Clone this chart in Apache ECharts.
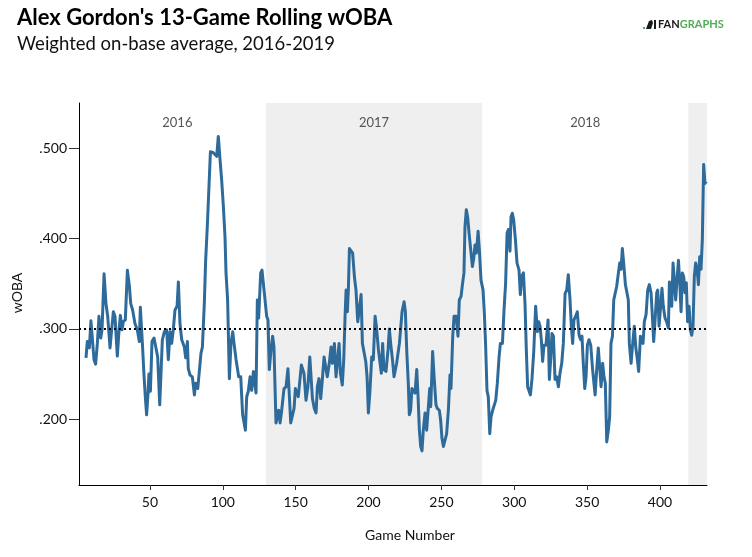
<!DOCTYPE html>
<html>
<head>
<meta charset="utf-8">
<script src="https://cdn.jsdelivr.net/npm/echarts@6/dist/echarts.min.js"></script>
<style>
html,body{margin:0;padding:0;background:#fff;}
#chart{width:752px;height:557px;}
</style>
</head>
<body>
<div id="chart"></div>
<script>
const titleText = "Alex Gordon's 13-Game Rolling wOBA";
const subtitleText = "Weighted on-base average, 2016-2019";
const xTicks = [50, 100, 150, 200, 250, 300, 350, 400];
const yTicks = [0.2, 0.3, 0.4, 0.5];
const leagueAvg = 0.298;
const seasons = [
  {name: '2016', start: 8, end: 129.6, shaded: false},
  {name: '2017', start: 129.6, end: 278, shaded: true},
  {name: '2018', start: 278, end: 419.5, shaded: false},
  {name: '', start: 419.5, end: 432.3, shaded: true}
];
const games = [
6.1,7.0,8.4,9.5,11.6,12.7,13.9,15.0,16.2,17.1,18.5,19.8,21.0,22.6,23.7,24.9,26.0,27.6,28.8,29.7,30.8,31.7,33.1,34.5,35.9,36.8,38.1,39.7,41.3,42.7,43.4,44.8,45.9,46.8,47.7,48.7,49.3,50.3,51.4,52.8,
53.5,55.3,56.7,58.5,59.9,61.5,62.6,63.8,64.9,66.0,67.2,68.6,69.5,70.6,71.8,73.6,74.5,75.7,76.3,77.5,79.1,80.5,81.4,82.8,83.9,85.0,86.0,87.3,88.2,89.4,90.5,91.5,92.4,93.5,94.6,95.8,96.9,98.1,99.2,100.4,101.5,102.2,103.3,104.5,
105.6,106.8,107.7,109.1,110.0,110.9,112.3,113.6,114.5,115.5,116.4,117.5,118.7,119.8,121.0,122.1,122.8,123.7,124.6,126.0,126.9,127.8,129.0,130.1,131.0,131.9,133.1,134.2,135.1,136.5,137.4,138.3,139.3,140.2,141.1,142.0,143.4,144.7,145.7,146.6,147.5,148.9,149.8,150.7,151.8,153.0,153.9,154.8,155.7,157.1,
158.4,159.7,161.5,162.8,164.0,164.9,166.0,167.2,168.3,169.5,170.6,171.7,172.9,174.3,175.2,176.6,177.7,178.6,179.8,180.7,182.0,183.0,183.9,184.6,185.5,186.2,186.9,188.0,189.1,190.3,191.4,192.6,193.5,194.9,195.8,196.9,198.1,199.0,199.9,201.0,202.2,203.3,204.5,205.4,206.8,
208.8,209.7,210.6,212.0,213.4,214.3,215.2,216.5,217.5,218.2,219.3,220.2,221.2,222.1,223.0,224.4,225.3,226.2,227.3,228.0,228.9,229.8,230.8,231.9,233.1,234.0,234.9,235.8,236.7,237.6,238.8,239.9,241.1,242.0,242.7,244.0,245.0,246.3,247.2,248.6,249.5,250.4,251.4,252.7,253.6,254.8,255.9,256.6,257.8,258.7,260.1,261.4,262.3,
263.5,264.6,265.5,266.2,267.1,268.1,269.0,270.1,271.3,272.2,273.1,274.0,275.2,276.1,277.2,278.6,279.5,280.4,281.3,282.2,283.2,284.1,285.2,286.4,287.3,288.4,289.6,290.5,291.9,293.0,294.1,295.1,296.0,297.1,297.8,298.7,299.6,300.8,301.9,303.3,304.2,305.1,306.3,307.4,308.3,309.2,310.2,311.1,
312.2,313.4,314.7,315.9,316.8,317.7,318.6,319.5,320.4,321.8,323.2,324.1,325.0,325.9,326.9,328.0,329.1,330.3,331.4,332.6,333.7,334.9,336.0,337.1,338.3,339.2,340.1,341.0,342.2,343.3,344.5,345.6,346.5,347.4,348.4,349.3,350.2,351.3,352.5,353.8,355.5,356.6,357.7,358.9,359.6,360.7,361.6,362.5,363.5,364.6,365.5,
366.4,367.4,368.3,369.2,370.3,371.5,372.4,373.3,374.2,375.1,376.3,377.4,378.3,379.0,380.2,381.1,382.4,383.4,384.5,385.4,386.6,387.5,388.4,389.3,390.5,391.6,392.7,393.9,394.8,395.7,396.6,397.8,398.5,399.4,400.3,401.4,402.3,403.5,404.6,405.8,406.5,407.4,408.1,409.0,409.9,410.8,411.7,412.7,413.6,414.5,415.4,416.3,417.2,418.1,419.0,420.0,420.9,421.8,422.7,423.6,424.5,425.5,426.4,427.3,428.2,429.1,430.0,430.9,431.9
];
const woba = [
.268,.286,.279,.309,.266,.261,.284,.314,.290,.299,.361,.328,.314,.279,.299,.319,.314,.270,.299,.315,.299,.308,.310,.365,.347,.328,.321,.306,.299,.286,.324,.284,.249,.225,.205,.229,.250,.231,.286,.290,
.291,.269,.216,.288,.297,.299,.266,.297,.284,.299,.321,.325,.352,.306,.288,.280,.268,.286,.256,.249,.247,.227,.240,.234,.236,.273,.280,.328,.375,.415,.415,.496,.498,.495,.496,.491,.513,.487,.465,.435,.402,.362,.332,.245,
.284,.297,.284,.266,.264,.247,.247,.205,.203,.188,.225,.231,.247,.232,.253,.251,.229,.332,.312,.362,.365,.351,.351,.314,.310,.255,.277,.292,.280,.196,.196,.210,.196,.207,.207,.234,.236,.256,.225,.196,.196,.212,.234,.234,.225,.225,.260,.260,.251,.221,
.236,.269,.223,.212,.207,.236,.245,.223,.244,.269,.271,.247,.260,.280,.262,.284,.247,.245,.284,.251,.238,.266,.314,.343,.319,.345,.389,.389,.384,.358,.343,.308,.319,.338,.284,.282,.264,.247,.207,.232,.269,.266,.314,.303,.277,
.251,.284,.255,.253,.277,.300,.284,.265,.247,.245,.262,.262,.284,.301,.319,.330,.319,.277,.240,.205,.210,.234,.234,.229,.255,.225,.188,.170,.165,.188,.207,.188,.214,.234,.214,.275,.247,.216,.212,.210,.199,.179,.170,.170,.184,.210,.249,.234,.292,.314,.314,.292,.332,
.336,.351,.362,.413,.432,.423,.406,.404,.369,.378,.393,.384,.408,.387,.354,.343,.317,.280,.232,.225,.184,.203,.210,.208,.221,.240,.269,.284,.284,.321,.351,.406,.410,.386,.424,.428,.421,.399,.373,.365,.338,.358,.362,.328,.277,.236,.234,.227,
.245,.275,.325,.297,.308,.303,.288,.264,.282,.282,.310,.244,.266,.295,.292,.244,.247,.236,.251,.262,.284,.339,.343,.360,.332,.303,.284,.310,.314,.319,.293,.288,.292,.262,.234,.247,.282,.288,.282,.255,.227,.255,.279,.277,.236,.262,.247,.240,.175,.188,.203,
.284,.292,.332,.334,.347,.362,.373,.366,.389,.373,.349,.347,.332,.284,.262,.280,.303,.280,.266,.253,.292,.290,.284,.308,.316,.343,.349,.340,.314,.286,.308,.340,.343,.303,.321,.345,.325,.312,.308,.301,.352,.354,.325,.373,.354,.332,.354,.376,.352,.319,.362,.358,.340,.351,.308,.325,.299,.293,.303,.358,.373,.366,.349,.380,.366,.399,.482,.461,.463
];

const seriesData = games.map((g, i) => [g, woba[i]]);
const areaData = seasons.map(s => [
  {xAxis: s.start, name: s.name, itemStyle: {color: s.shaded ? '#efefef' : 'rgba(0,0,0,0)'}},
  {xAxis: s.end}
]);

const chart = echarts.init(document.getElementById('chart'), null, {renderer: 'canvas'});
const FONT = 'Lato';
chart.setOption({
  animation: false,
  backgroundColor: '#ffffff',
  textStyle: {fontFamily: FONT},
  grid: {left: 79, right: 45, top: 103, bottom: 72, containLabel: false},
  xAxis: {
    type: 'value',
    min: 1.3,
    max: 432.3,
    axisLine: {show: true, lineStyle: {color: '#000', width: 1}},
    axisTick: {show: true, length: 5, customValues: xTicks, lineStyle: {color: '#333'}},
    axisLabel: {customValues: xTicks, fontSize: 14, color: '#111', margin: 10, fontFamily: FONT},
    splitLine: {show: false}
  },
  yAxis: {
    type: 'value',
    min: 0.1273,
    max: 0.55,
    axisLine: {show: true, lineStyle: {color: '#000', width: 1}},
    axisTick: {show: true, length: 10, customValues: yTicks, lineStyle: {color: '#333'}},
    axisLabel: {
      customValues: yTicks, fontSize: 14, color: '#111', margin: 12, fontFamily: FONT,
      formatter: v => v.toFixed(3).replace(/^0/, '')
    },
    splitLine: {show: false}
  },
  graphic: [
    {type: 'text', left: 17, top: 7, style: {text: titleText, font: 'bold 22px Lato', fill: '#000'}},
    {type: 'text', left: 17, top: 35, style: {text: subtitleText, font: '18.5px Lato', fill: '#111'}},
    {type: 'text', x: 410, y: 535, style: {text: 'Game Number', font: '14px Lato', fill: '#111', align: 'center', verticalAlign: 'middle'}},
    {type: 'text', x: 17, y: 293, rotation: Math.PI / 2, style: {text: 'wOBA', font: '14px Lato', fill: '#111', align: 'center', verticalAlign: 'middle'}},
    {type: 'rect', shape: {x: 643, y: 27, width: 2, height: 2}, style: {fill: '#50ae55'}},
    {type: 'polygon', shape: {points: [[646, 29], [649, 21], [652, 20], [653, 23], [651, 29]]}, style: {fill: '#1a1a1a'}},
    {type: 'rect', shape: {x: 654, y: 20, width: 2, height: 9}, style: {fill: '#1a1a1a'}},
    {type: 'text', left: 658, top: 19, style: {
      rich: {a: {font: 'bold 11px Lato', fill: '#1a1a1a'}, b: {font: 'bold 11px Lato', fill: '#50ae55'}},
      text: '{a|FAN}{b|GRAPHS}'
    }}
  ],
  series: [{
    type: 'line',
    data: seriesData,
    showSymbol: false,
    symbol: 'none',
    lineStyle: {color: '#2f6b9a', width: 3, join: 'round'},
    z: 3,
    markArea: {
      silent: true,
      label: {show: true, position: 'insideTop', distance: 13, color: '#555', fontSize: 13, fontFamily: FONT},
      data: areaData
    },
    markLine: {
      silent: true,
      symbol: 'none',
      label: {show: false},
      lineStyle: {color: '#000', type: [2, 3], width: 2},
      data: [{yAxis: leagueAvg}]
    }
  }]
});
</script>
</body>
</html>
